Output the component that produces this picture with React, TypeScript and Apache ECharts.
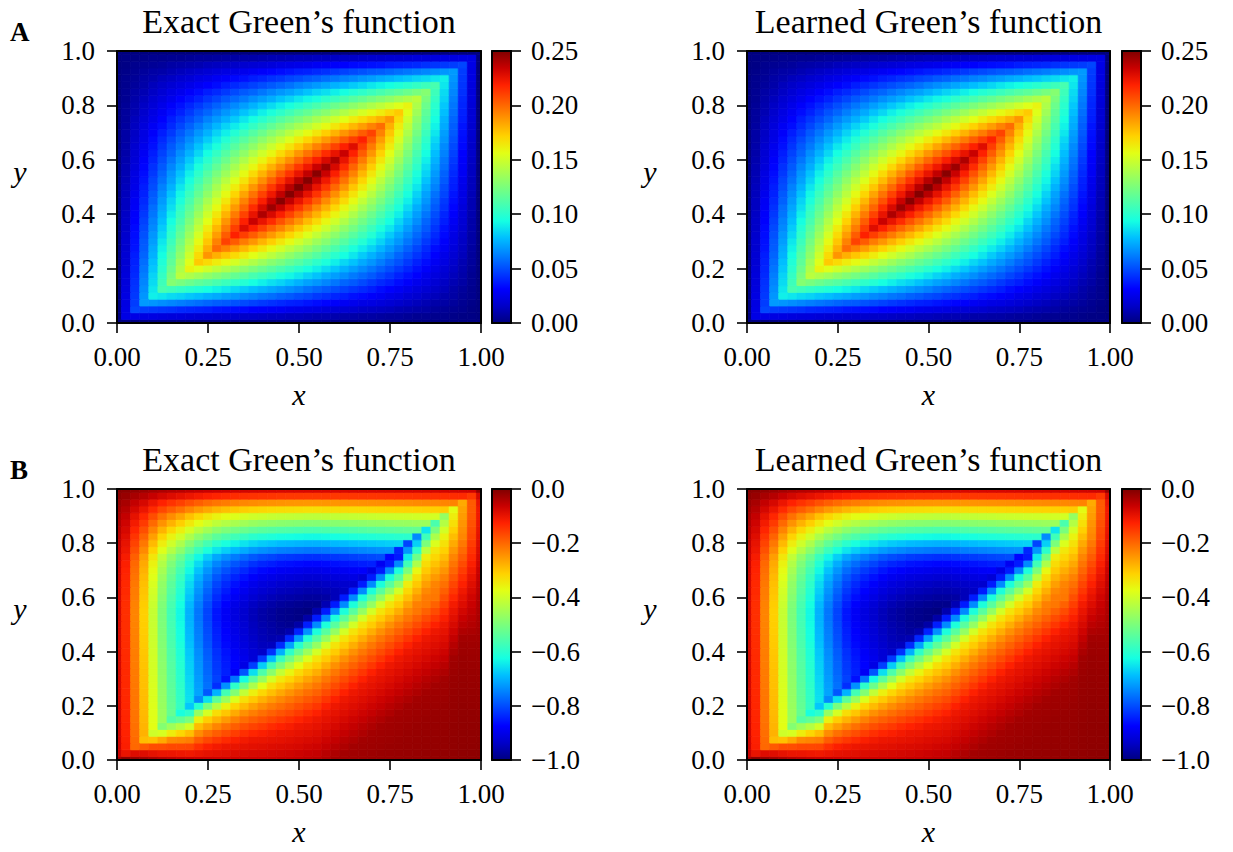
import React, { useEffect, useRef } from "react";
import * as echarts from "echarts";

// ---------- data ----------
// grid node coordinates (shared by x and y), step 0.025
const nodes = [0,0.025,0.05,0.075,0.1,0.125,0.15,0.175,0.2,0.225,0.25,0.275,0.3,0.325,0.35,0.375,0.4,0.425,0.45,0.475,0.5,0.525,0.55,0.575,0.6,0.625,0.65,0.675,0.7,0.725,0.75,0.775,0.8,0.825,0.85,0.875,0.9,0.925,0.95,0.975,1.0];

// values are given in thousandths (milli-units)
const milli = 0.001;

// Panel A (G, milli-units): rows y = 0 (first) .. 1 (last), columns x = 0 .. 1
const greenA: number[][] = [
  [0,0,0,0,0,0,0,0,0,0,0,0,0,0,0,0,0,0,0,0,0,0,0,0,0,0,0,0,0,0,0,0,0,0,0,0,0,0,0,0,0],
  [0,24,24,23,23,22,21,21,20,19,19,18,18,17,16,16,15,14,14,13,13,12,11,11,10,9,9,8,8,7,6,6,5,4,4,3,3,2,1,1,0],
  [0,24,48,46,45,44,43,41,40,39,38,36,35,34,33,31,30,29,28,26,25,24,23,21,20,19,18,16,15,14,13,11,10,9,8,6,5,4,3,1,0],
  [0,23,46,69,68,66,64,62,60,58,56,54,53,51,49,47,45,43,41,39,38,36,34,32,30,28,26,24,23,21,19,17,15,13,11,9,8,6,4,2,0],
  [0,23,45,68,90,88,85,83,80,78,75,73,70,68,65,63,60,58,55,53,50,48,45,43,40,38,35,33,30,28,25,23,20,18,15,13,10,8,5,3,0],
  [0,22,44,66,88,109,106,103,100,97,94,91,88,84,81,78,75,72,69,66,63,59,56,53,50,47,44,41,38,34,31,28,25,22,19,16,13,9,6,3,0],
  [0,21,43,64,85,106,128,124,120,116,113,109,105,101,98,94,90,86,83,79,75,71,68,64,60,56,53,49,45,41,38,34,30,26,23,19,15,11,8,4,0],
  [0,21,41,62,83,103,124,144,140,136,131,127,123,118,114,109,105,101,96,92,88,83,79,74,70,66,61,57,53,48,44,39,35,31,26,22,18,13,9,4,0],
  [0,20,40,60,80,100,120,140,160,155,150,145,140,135,130,125,120,115,110,105,100,95,90,85,80,75,70,65,60,55,50,45,40,35,30,25,20,15,10,5,0],
  [0,19,39,58,78,97,116,136,155,174,169,163,158,152,146,141,135,129,124,118,113,107,101,96,90,84,79,73,68,62,56,51,45,39,34,28,23,17,11,6,0],
  [0,19,38,56,75,94,113,131,150,169,188,181,175,169,163,156,150,144,138,131,125,119,113,106,100,94,88,81,75,69,63,56,50,44,38,31,25,19,13,6,0],
  [0,18,36,54,73,91,109,127,145,163,181,199,193,186,179,172,165,158,151,144,138,131,124,117,110,103,96,89,83,76,69,62,55,48,41,34,28,21,14,7,0],
  [0,18,35,53,70,88,105,123,140,158,175,193,210,203,195,188,180,173,165,158,150,143,135,128,120,113,105,98,90,83,75,68,60,53,45,38,30,23,15,8,0],
  [0,17,34,51,68,84,101,118,135,152,169,186,203,219,211,203,195,187,179,171,163,154,146,138,130,122,114,106,98,89,81,73,65,57,49,41,33,24,16,8,0],
  [0,16,33,49,65,81,98,114,130,146,163,179,195,211,228,219,210,201,193,184,175,166,158,149,140,131,123,114,105,96,88,79,70,61,53,44,35,26,18,9,0],
  [0,16,31,47,63,78,94,109,125,141,156,172,188,203,219,234,225,216,206,197,188,178,169,159,150,141,131,122,113,103,94,84,75,66,56,47,38,28,19,9,0],
  [0,15,30,45,60,75,90,105,120,135,150,165,180,195,210,225,240,230,220,210,200,190,180,170,160,150,140,130,120,110,100,90,80,70,60,50,40,30,20,10,0],
  [0,14,29,43,58,72,86,101,115,129,144,158,173,187,201,216,230,244,234,223,213,202,191,181,170,159,149,138,128,117,106,96,85,74,64,53,43,32,21,11,0],
  [0,14,28,41,55,69,83,96,110,124,138,151,165,179,193,206,220,234,248,236,225,214,203,191,180,169,158,146,135,124,113,101,90,79,68,56,45,34,23,11,0],
  [0,13,26,39,53,66,79,92,105,118,131,144,158,171,184,197,210,223,236,249,238,226,214,202,190,178,166,154,143,131,119,107,95,83,71,59,48,36,24,12,0],
  [0,13,25,38,50,63,75,88,100,113,125,138,150,163,175,188,200,213,225,238,250,238,225,213,200,188,175,163,150,138,125,113,100,88,75,63,50,38,25,13,0],
  [0,12,24,36,48,59,71,83,95,107,119,131,143,154,166,178,190,202,214,226,238,249,236,223,210,197,184,171,158,144,131,118,105,92,79,66,53,39,26,13,0],
  [0,11,23,34,45,56,68,79,90,101,113,124,135,146,158,169,180,191,203,214,225,236,248,234,220,206,193,179,165,151,138,124,110,96,83,69,55,41,28,14,0],
  [0,11,21,32,43,53,64,74,85,96,106,117,128,138,149,159,170,181,191,202,213,223,234,244,230,216,201,187,173,158,144,129,115,101,86,72,58,43,29,14,0],
  [0,10,20,30,40,50,60,70,80,90,100,110,120,130,140,150,160,170,180,190,200,210,220,230,240,225,210,195,180,165,150,135,120,105,90,75,60,45,30,15,0],
  [0,9,19,28,38,47,56,66,75,84,94,103,113,122,131,141,150,159,169,178,188,197,206,216,225,234,219,203,188,172,156,141,125,109,94,78,63,47,31,16,0],
  [0,9,18,26,35,44,53,61,70,79,88,96,105,114,123,131,140,149,158,166,175,184,193,201,210,219,228,211,195,179,163,146,130,114,98,81,65,49,33,16,0],
  [0,8,16,24,33,41,49,57,65,73,81,89,98,106,114,122,130,138,146,154,163,171,179,187,195,203,211,219,203,186,169,152,135,118,101,84,68,51,34,17,0],
  [0,8,15,23,30,38,45,53,60,68,75,83,90,98,105,113,120,128,135,143,150,158,165,173,180,188,195,203,210,193,175,158,140,123,105,88,70,53,35,18,0],
  [0,7,14,21,28,34,41,48,55,62,69,76,83,89,96,103,110,117,124,131,138,144,151,158,165,172,179,186,193,199,181,163,145,127,109,91,73,54,36,18,0],
  [0,6,13,19,25,31,38,44,50,56,63,69,75,81,88,94,100,106,113,119,125,131,138,144,150,156,163,169,175,181,188,169,150,131,113,94,75,56,38,19,0],
  [0,6,11,17,23,28,34,39,45,51,56,62,68,73,79,84,90,96,101,107,113,118,124,129,135,141,146,152,158,163,169,174,155,136,116,97,78,58,39,19,0],
  [0,5,10,15,20,25,30,35,40,45,50,55,60,65,70,75,80,85,90,95,100,105,110,115,120,125,130,135,140,145,150,155,160,140,120,100,80,60,40,20,0],
  [0,4,9,13,18,22,26,31,35,39,44,48,53,57,61,66,70,74,79,83,88,92,96,101,105,109,114,118,123,127,131,136,140,144,124,103,83,62,41,21,0],
  [0,4,8,11,15,19,23,26,30,34,38,41,45,49,53,56,60,64,68,71,75,79,83,86,90,94,98,101,105,109,113,116,120,124,128,106,85,64,43,21,0],
  [0,3,6,9,13,16,19,22,25,28,31,34,38,41,44,47,50,53,56,59,63,66,69,72,75,78,81,84,88,91,94,97,100,103,106,109,88,66,44,22,0],
  [0,3,5,8,10,13,15,18,20,23,25,28,30,33,35,38,40,43,45,48,50,53,55,58,60,63,65,68,70,73,75,78,80,83,85,88,90,68,45,23,0],
  [0,2,4,6,8,9,11,13,15,17,19,21,23,24,26,28,30,32,34,36,38,39,41,43,45,47,49,51,53,54,56,58,60,62,64,66,68,69,46,23,0],
  [0,1,3,4,5,6,8,9,10,11,13,14,15,16,18,19,20,21,23,24,25,26,28,29,30,31,33,34,35,36,38,39,40,41,43,44,45,46,48,24,0],
  [0,1,1,2,3,3,4,4,5,6,6,7,8,8,9,9,10,11,11,12,13,13,14,14,15,16,16,17,18,18,19,19,20,21,21,22,23,23,24,24,0],
  [0,0,0,0,0,0,0,0,0,0,0,0,0,0,0,0,0,0,0,0,0,0,0,0,0,0,0,0,0,0,0,0,0,0,0,0,0,0,0,0,0],
];

// Panel B (G, milli-units): rows y = 0 (first) .. 1 (last), columns x = 0 .. 1
const greenB: number[][] = [
  [-30,-9,-18,-26,-36,-44,-50,-56,-61,-64,-66,-68,-69,-68,-67,-67,-66,-64,-62,-60,-56,-53,-49,-40,-30,-28,-26,-24,-22,-21,-20,-19,-18,-17,-17,-16,-16,-15,-12,-11,-10],
  [-66,-100,-86,-87,-96,-102,-103,-107,-109,-103,-97,-93,-90,-85,-82,-80,-78,-75,-73,-70,-66,-62,-59,-49,-40,-30,-28,-26,-24,-22,-21,-20,-19,-18,-17,-17,-16,-15,-13,-12,-11],
  [-69,-120,-200,-184,-172,-172,-165,-165,-163,-140,-122,-112,-105,-100,-96,-93,-90,-86,-83,-81,-77,-72,-68,-59,-49,-40,-30,-28,-26,-24,-22,-21,-20,-19,-18,-17,-17,-15,-13,-13,-12],
  [-70,-123,-202,-290,-296,-270,-237,-231,-224,-187,-165,-149,-135,-121,-111,-105,-102,-98,-95,-91,-86,-82,-78,-68,-59,-49,-40,-30,-28,-26,-24,-22,-21,-20,-19,-18,-17,-15,-14,-14,-13],
  [-72,-126,-207,-279,-400,-390,-349,-319,-292,-238,-209,-189,-172,-155,-140,-129,-121,-112,-105,-102,-97,-92,-87,-78,-68,-59,-49,-40,-30,-28,-26,-24,-22,-21,-20,-19,-18,-16,-14,-14,-14],
  [-73,-127,-209,-282,-373,-490,-458,-430,-394,-289,-259,-231,-209,-190,-173,-160,-149,-136,-125,-117,-107,-102,-97,-87,-78,-68,-59,-49,-40,-30,-28,-26,-24,-22,-21,-20,-19,-16,-15,-15,-15],
  [-74,-129,-212,-285,-377,-460,-550,-533,-503,-355,-308,-280,-253,-227,-206,-191,-178,-164,-152,-140,-127,-116,-106,-97,-87,-78,-68,-59,-49,-40,-30,-28,-26,-24,-22,-21,-20,-17,-15,-16,-16],
  [-74,-130,-213,-287,-379,-463,-527,-620,-598,-467,-391,-328,-300,-270,-243,-223,-207,-192,-178,-166,-151,-137,-124,-106,-97,-87,-78,-68,-59,-49,-40,-30,-28,-26,-24,-22,-21,-17,-16,-16,-17],
  [-74,-130,-214,-288,-381,-465,-530,-586,-680,-606,-504,-430,-359,-316,-288,-262,-239,-220,-205,-191,-175,-161,-147,-124,-106,-97,-87,-78,-68,-59,-49,-40,-30,-28,-26,-24,-22,-18,-16,-17,-18],
  [-75,-131,-215,-290,-383,-468,-533,-589,-655,-740,-654,-539,-464,-385,-332,-304,-278,-254,-234,-216,-200,-184,-170,-147,-124,-106,-97,-87,-78,-68,-59,-49,-40,-30,-28,-26,-24,-19,-17,-18,-19],
  [-75,-132,-216,-291,-385,-470,-536,-592,-658,-714,-790,-699,-569,-491,-415,-354,-319,-292,-268,-246,-226,-208,-193,-170,-147,-124,-106,-97,-87,-78,-68,-59,-49,-40,-30,-28,-26,-20,-18,-19,-20],
  [-76,-132,-217,-293,-387,-473,-539,-595,-662,-718,-765,-830,-734,-596,-518,-442,-376,-330,-304,-281,-256,-235,-216,-193,-170,-147,-124,-106,-97,-87,-78,-68,-59,-49,-40,-30,-28,-21,-19,-20,-21],
  [-76,-133,-219,-295,-390,-475,-542,-599,-665,-722,-770,-812,-860,-764,-626,-541,-466,-394,-343,-316,-290,-265,-243,-216,-193,-170,-147,-124,-106,-97,-87,-78,-68,-59,-49,-40,-30,-22,-20,-21,-22],
  [-76,-134,-220,-296,-392,-478,-544,-602,-669,-726,-774,-817,-845,-885,-792,-656,-558,-483,-414,-361,-323,-298,-274,-243,-216,-193,-170,-147,-124,-106,-97,-87,-78,-68,-59,-49,-40,-24,-21,-22,-23],
  [-77,-134,-221,-298,-394,-480,-547,-605,-672,-730,-778,-821,-850,-874,-905,-813,-674,-571,-499,-433,-373,-330,-306,-274,-243,-216,-193,-170,-147,-124,-106,-97,-87,-78,-68,-59,-49,-26,-22,-23,-24],
  [-77,-135,-222,-299,-396,-483,-550,-608,-676,-733,-782,-825,-854,-878,-897,-920,-820,-689,-583,-514,-446,-384,-337,-306,-274,-243,-216,-193,-170,-147,-124,-106,-97,-87,-78,-68,-59,-29,-23,-24,-25],
  [-78,-136,-223,-301,-398,-485,-553,-611,-679,-737,-786,-829,-858,-883,-902,-922,-935,-828,-703,-594,-524,-459,-395,-337,-306,-274,-243,-216,-193,-170,-147,-124,-106,-97,-87,-78,-68,-37,-25,-26,-26],
  [-78,-137,-225,-304,-402,-490,-559,-617,-686,-745,-794,-838,-867,-892,-911,-931,-946,-945,-834,-715,-602,-534,-470,-395,-337,-306,-274,-243,-216,-193,-170,-147,-124,-106,-97,-87,-78,-47,-27,-28,-28],
  [-79,-138,-227,-305,-404,-493,-561,-621,-690,-749,-798,-842,-872,-896,-916,-936,-951,-960,-955,-839,-724,-609,-543,-470,-395,-337,-306,-274,-243,-216,-193,-170,-147,-124,-106,-97,-87,-58,-30,-30,-30],
  [-79,-139,-228,-307,-406,-495,-564,-624,-693,-752,-802,-846,-876,-901,-921,-941,-955,-965,-975,-960,-843,-733,-616,-543,-470,-395,-337,-306,-274,-243,-216,-193,-170,-147,-124,-106,-97,-69,-41,-37,-32],
  [-80,-139,-229,-308,-408,-498,-567,-627,-697,-756,-806,-851,-881,-905,-925,-945,-960,-970,-980,-985,-965,-847,-740,-616,-543,-470,-395,-337,-306,-274,-243,-216,-193,-170,-147,-124,-106,-80,-52,-44,-35],
  [-80,-140,-230,-310,-410,-500,-570,-630,-700,-760,-810,-855,-885,-910,-930,-950,-965,-975,-985,-990,-995,-965,-850,-740,-616,-543,-470,-395,-337,-306,-274,-243,-216,-193,-170,-147,-121,-91,-63,-50,-37],
  [-80,-140,-230,-310,-410,-500,-570,-630,-700,-760,-810,-855,-885,-910,-930,-950,-965,-975,-985,-990,-995,-1000,-960,-850,-740,-616,-543,-470,-395,-337,-306,-274,-236,-216,-193,-170,-138,-101,-74,-57,-40],
  [-79,-139,-228,-307,-406,-495,-564,-624,-693,-752,-802,-846,-876,-901,-921,-941,-955,-965,-975,-980,-985,-990,-990,-955,-850,-740,-616,-543,-470,-395,-337,-306,-264,-226,-216,-193,-156,-113,-86,-64,-42],
  [-78,-137,-224,-302,-400,-488,-556,-614,-683,-741,-790,-834,-863,-887,-907,-926,-941,-951,-960,-965,-970,-975,-975,-970,-950,-850,-740,-616,-543,-470,-395,-337,-293,-251,-220,-216,-173,-130,-97,-71,-45],
  [-77,-134,-221,-298,-394,-480,-547,-605,-672,-730,-778,-821,-850,-874,-893,-912,-926,-936,-946,-950,-955,-960,-960,-955,-950,-940,-850,-740,-616,-543,-470,-395,-321,-277,-235,-220,-191,-147,-108,-79,-50],
  [-76,-132,-217,-293,-387,-473,-539,-595,-662,-718,-765,-808,-836,-860,-879,-898,-912,-921,-931,-936,-940,-945,-945,-940,-936,-931,-930,-850,-740,-616,-543,-470,-350,-303,-258,-230,-209,-163,-123,-89,-55],
  [-74,-130,-213,-287,-379,-463,-527,-583,-648,-703,-749,-791,-819,-842,-860,-879,-893,-902,-911,-916,-920,-925,-925,-920,-916,-911,-907,-920,-850,-740,-616,-543,-425,-329,-281,-252,-226,-180,-138,-99,-60],
  [-72,-126,-207,-279,-369,-450,-513,-567,-630,-684,-729,-770,-797,-819,-837,-855,-869,-878,-887,-891,-896,-900,-900,-896,-891,-887,-882,-878,-905,-850,-740,-616,-500,-365,-304,-274,-247,-197,-154,-110,-65],
  [-70,-122,-200,-270,-357,-435,-496,-548,-609,-661,-705,-744,-770,-792,-809,-827,-840,-848,-857,-861,-866,-870,-870,-866,-861,-857,-853,-848,-844,-890,-850,-740,-572,-440,-327,-297,-268,-213,-170,-121,-72],
  [-66,-116,-191,-257,-340,-415,-473,-523,-581,-631,-672,-710,-735,-755,-772,-789,-801,-809,-818,-822,-826,-830,-830,-826,-822,-818,-813,-809,-805,-801,-870,-850,-646,-516,-350,-319,-290,-230,-186,-133,-80],
  [-61,-106,-175,-236,-312,-380,-433,-479,-532,-578,-616,-650,-673,-692,-707,-722,-733,-741,-749,-752,-756,-760,-760,-756,-752,-749,-745,-741,-737,-733,-730,-840,-728,-598,-425,-341,-311,-250,-202,-144,-85],
  [-56,-98,-161,-217,-287,-350,-399,-441,-490,-532,-567,-599,-620,-637,-651,-665,-676,-683,-690,-693,-697,-700,-700,-697,-693,-690,-686,-683,-679,-676,-672,-669,-810,-671,-500,-385,-333,-270,-217,-154,-90],
  [-50,-88,-145,-195,-258,-315,-359,-397,-441,-479,-510,-539,-558,-573,-586,-599,-608,-614,-621,-624,-627,-630,-630,-627,-624,-621,-617,-614,-611,-608,-605,-602,-599,-740,-575,-443,-358,-290,-232,-164,-95],
  [-45,-78,-129,-174,-230,-280,-319,-353,-392,-426,-454,-479,-496,-510,-521,-532,-540,-546,-552,-554,-557,-560,-560,-557,-554,-552,-549,-546,-543,-540,-538,-535,-532,-529,-650,-502,-395,-310,-239,-170,-100],
  [-39,-69,-113,-152,-201,-245,-279,-309,-343,-372,-397,-419,-434,-446,-456,-466,-473,-478,-483,-485,-488,-490,-490,-488,-485,-483,-480,-478,-475,-473,-470,-468,-466,-463,-461,-560,-433,-330,-247,-176,-105],
  [-34,-59,-97,-130,-172,-210,-239,-265,-294,-319,-340,-359,-372,-382,-391,-399,-405,-410,-414,-416,-418,-420,-420,-418,-416,-414,-412,-410,-407,-405,-403,-401,-399,-397,-395,-393,-470,-350,-255,-183,-110],
  [-26,-46,-76,-102,-135,-165,-188,-208,-231,-251,-267,-282,-292,-300,-307,-314,-318,-322,-325,-327,-328,-330,-330,-328,-327,-325,-323,-322,-320,-318,-317,-315,-314,-312,-310,-309,-305,-370,-262,-186,-110],
  [-20,-35,-58,-78,-103,-125,-143,-158,-175,-190,-203,-214,-221,-228,-233,-238,-241,-244,-246,-248,-249,-250,-250,-249,-248,-246,-245,-244,-243,-241,-240,-239,-238,-236,-235,-234,-231,-229,-270,-185,-100],
  [-12,-21,-35,-47,-62,-75,-86,-95,-105,-114,-122,-128,-133,-137,-140,-143,-145,-146,-148,-149,-149,-150,-150,-149,-149,-148,-147,-146,-146,-145,-144,-143,-143,-142,-141,-140,-139,-137,-135,-150,-80],
  [-6,-11,-18,-25,-33,-40,-46,-50,-56,-61,-65,-68,-71,-73,-74,-76,-77,-78,-79,-79,-80,-80,-80,-80,-79,-79,-78,-78,-78,-77,-77,-76,-76,-76,-75,-75,-74,-73,-72,-70,-20],
];

// learned functions (visually identical to the exact ones in the picture)
const learnedA = greenA;
const learnedB = greenB;

const titles = ["Exact Green\u2019s function", "Learned Green\u2019s function"];
const rowLetters = ["A", "B"];
const xTickStep = 0.25;
const yTickStep = 0.2;
const cbarA = { min: 0, max: 0.25, step: 0.05, digits: 2 };
const cbarB = { min: -1, max: 0, step: 0.2, digits: 1 };

// matplotlib "jet" colormap stops
const jet = ["#000080","#0000c8","#0000ff","#0040ff","#0080ff","#00bfff","#15ffe2","#48ffaf","#7bff7b","#afff48","#e2ff15","#ffd200","#ff9700","#ff5c00","#ff2100","#c80000","#800000"];

const FONT = "'Liberation Serif', 'DejaVu Serif', serif";

function toCells(grid: number[][]) {
  const out: number[][] = [];
  grid.forEach((row, j) => row.forEach((v, i) => out.push([nodes[i], nodes[j], v * milli])));
  return out;
}

function buildOption() {
  const panels = [
    { left: 117, top: 51, width: 364, height: 272, cb: 492, data: greenA, scale: cbarA, title: titles[0] },
    { left: 747, top: 51, width: 363, height: 272, cb: 1122, data: learnedA, scale: cbarA, title: titles[1] },
    { left: 117, top: 489, width: 364, height: 271, cb: 492, data: greenB, scale: cbarB, title: titles[0] },
    { left: 747, top: 489, width: 363, height: 271, cb: 1122, data: learnedB, scale: cbarB, title: titles[1] },
  ];
  const half = (nodes[1] - nodes[0]) / 2;
  const line = { color: "#000", width: 2 };
  const tick = { show: true, inside: false, length: 10, lineStyle: { color: "#000", width: 1.6 } };
  const lab = { color: "#000", fontSize: 27, fontFamily: FONT };
  const grid: any[] = [];
  const xAxis: any[] = [];
  const yAxis: any[] = [];
  const heat: any[] = [];
  const bars: any[] = [];
  const visualMap: any[] = [];
  const graphic: any[] = [];
  const stops = jet.map((c, k) => ({ offset: k / (jet.length - 1), color: c }));
  const bare = { axisTick: { show: false }, axisLabel: { show: false }, splitLine: { show: false } };

  panels.forEach((p, k) => {
    grid.push({ left: p.left, top: p.top, width: p.width, height: p.height, containLabel: false });
    grid.push({ left: p.cb, top: p.top, width: 19, height: p.height, containLabel: false });
    const gi = 2 * k, gc = 2 * k + 1;
    xAxis.push({
      type: "value", gridIndex: gi, min: 0, max: 1, interval: xTickStep, position: "bottom", z: 10,
      axisLine: { show: true, onZero: false, lineStyle: line }, axisTick: tick, splitLine: { show: false },
      axisLabel: { ...lab, margin: 20, formatter: (v: number) => v.toFixed(2) },
      name: "x", nameLocation: "middle", nameGap: 56,
      nameTextStyle: { color: "#000", fontSize: 30, fontFamily: FONT, fontStyle: "italic" },
    });
    xAxis.push({ type: "value", gridIndex: gi, min: 0, max: 1, position: "top", z: 10, axisLine: { show: true, onZero: false, lineStyle: line }, ...bare });
    xAxis.push({ type: "value", gridIndex: gc, min: 0, max: 1, position: "bottom", z: 10, axisLine: { show: true, onZero: false, lineStyle: line }, ...bare });
    xAxis.push({ type: "value", gridIndex: gc, min: 0, max: 1, position: "top", z: 10, axisLine: { show: true, onZero: false, lineStyle: line }, ...bare });
    yAxis.push({
      type: "value", gridIndex: gi, min: 0, max: 1, interval: yTickStep, position: "left", z: 10,
      axisLine: { show: true, onZero: false, lineStyle: line }, axisTick: tick, splitLine: { show: false },
      axisLabel: { ...lab, margin: 22, formatter: (v: number) => v.toFixed(1) },
    });
    yAxis.push({ type: "value", gridIndex: gi, min: 0, max: 1, position: "right", z: 10, axisLine: { show: true, onZero: false, lineStyle: line }, ...bare });
    const s = p.scale;
    yAxis.push({
      type: "value", gridIndex: gc, min: s.min, max: s.max, interval: s.step, position: "right", z: 10,
      axisLine: { show: true, onZero: false, lineStyle: line }, axisTick: tick, splitLine: { show: false },
      axisLabel: {
        ...lab, margin: 20,
        formatter: (v: number) => (Math.abs(v) < 1e-9 ? (0).toFixed(s.digits) : v.toFixed(s.digits).replace("-", "\u2212")),
      },
    });
    yAxis.push({ type: "value", gridIndex: gc, min: s.min, max: s.max, position: "left", z: 10, axisLine: { show: true, onZero: false, lineStyle: line }, ...bare });

    heat.push({
      type: "custom", xAxisIndex: 4 * k, yAxisIndex: 4 * k, clip: true, z: 2,
      encode: { x: 0, y: 1 },
      data: toCells(p.data),
      renderItem: (params: any, api: any) => {
        const x = api.value(0), y = api.value(1);
        const a = api.coord([x - half, y + half]);
        const b = api.coord([x + half, y - half]);
        const c = api.visual("color");
        return {
          type: "rect",
          shape: { x: a[0], y: a[1], width: b[0] - a[0], height: b[1] - a[1] },
          style: { fill: c, stroke: c, lineWidth: 0.8 },
        };
      },
    });
    bars.push({
      type: "custom", xAxisIndex: 4 * k + 2, yAxisIndex: 4 * k + 2, z: 2,
      data: [[0.5, (s.min + s.max) / 2]],
      renderItem: (params: any) => {
        const cs = params.coordSys;
        return {
          type: "rect",
          shape: { x: cs.x, y: cs.y, width: cs.width, height: cs.height },
          style: { fill: new echarts.graphic.LinearGradient(0, 1, 0, 0, stops) },
        };
      },
    });
    visualMap.push({
      type: "continuous", show: false, seriesIndex: k, dimension: 2,
      min: s.min, max: s.max, inRange: { color: jet },
    });

    const cx = p.left + p.width / 2;
    const titleY = k < 2 ? 21 : 459;
    graphic.push({
      type: "text", x: cx, y: titleY,
      style: { text: p.title, fill: "#000", fontSize: 34, fontFamily: FONT, align: "center", verticalAlign: "middle", textAlign: "center", textVerticalAlign: "middle" },
    });
    graphic.push({
      type: "text", x: p.left - 97, y: p.top + p.height / 2 - 16,
      style: { text: "y", fill: "#000", fontSize: 30, fontStyle: "italic", fontFamily: FONT, align: "center", verticalAlign: "middle", textAlign: "center", textVerticalAlign: "middle" },
    });
  });

  rowLetters.forEach((t, r) => {
    graphic.push({
      type: "text", x: 10, y: r === 0 ? 32 : 470,
      style: { text: t, fill: "#000", fontSize: 27, fontWeight: "bold", fontFamily: FONT, align: "left", verticalAlign: "middle", textAlign: "left", textVerticalAlign: "middle" },
    });
  });

  return {
    animation: false,
    backgroundColor: "#fff",
    grid, xAxis, yAxis, visualMap,
    series: [...heat, ...bars],
    graphic,
  };
}

export default function App() {
  const ref = useRef<HTMLDivElement>(null);
  useEffect(() => {
    document.body.style.margin = "0";
    const chart = echarts.init(ref.current as HTMLDivElement, undefined, { renderer: "svg" });
    chart.setOption(buildOption() as any);
    return () => chart.dispose();
  }, []);
  return <div ref={ref} style={{ width: 1233, height: 852 }} />;
}
